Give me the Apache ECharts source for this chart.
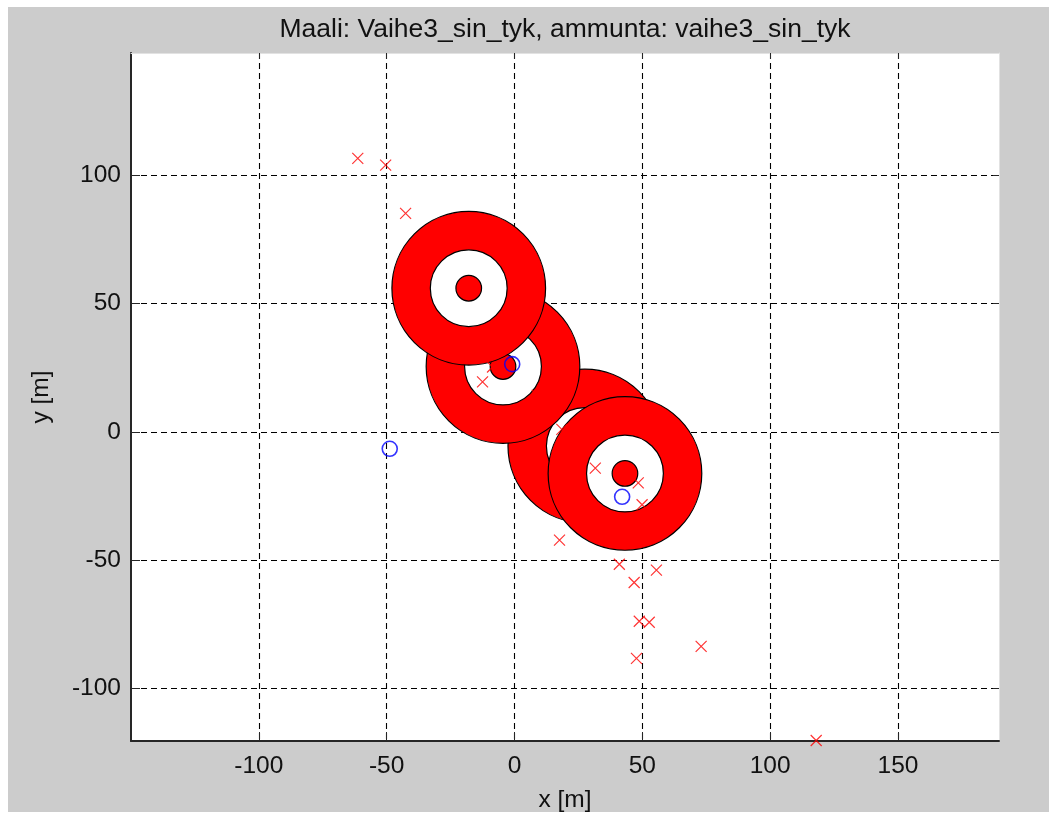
<!DOCTYPE html>
<html><head><meta charset="utf-8">
<script src="https://cdn.jsdelivr.net/npm/echarts@6/dist/echarts.min.js"></script>
<style>html,body{margin:0;background:#fff;}#wrap{position:absolute;left:0;top:0;width:1052px;height:814px;background:#fff;}#chart{position:absolute;left:8px;top:7px;width:1041px;height:805px;}</style>
</head><body><div id="wrap"><div id="chart"></div></div>
<script>
const titleText = 'Maali: Vaihe3_sin_tyk, ammunta: vaihe3_sin_tyk';
const xTicks = [-100, -50, 0, 50, 100, 150];
const yTicks = [-100, -50, 0, 50, 100];
// target centres (in drawing order, back to front)
const targetX = [27.5, 43.2, -4.5, -17.9];
const targetY = [-5.5, -16.2, 25.5, 56.0];
const ringRadii = [30, 15, 5];
const ringColors = ['#ff0000', '#ffffff', '#ff0000'];
// red x markers (hits)
const hitX = [-61.3, -50.4, -42.6, -12.5, -8.6, 8.9, 18.5, 31.6, 48.4, 49.9, 17.6, 41.0, 55.5, 46.8, 48.8, 52.7, 47.7, 73.0, 118.0];
const hitY = [106.6, 104.0, 85.2, 19.5, 25.3, 14.3, 1.0, -14.1, -19.9, -28.4, -42.2, -51.6, -53.9, -58.7, -73.8, -74.2, -88.3, -83.6, -120.3];
// blue circle markers
const refX = [-0.9, -48.8, 42.1];
const refY = [26.4, -6.6, -25.3];

const FONT = "'Liberation Sans', Arial, sans-serif";
const chart = echarts.init(document.getElementById('chart'), null, {renderer: 'canvas'});
const targets = targetX.map((x, i) => [x, targetY[i]]);
const hits = hitX.map((x, i) => [x, hitY[i]]);
const refs = refX.map((x, i) => [x, refY[i]]);

chart.setOption({
  animation: false,
  backgroundColor: '#cccccc',
  graphic: [{
    type: 'text', x: 557, y: 23,
    style: {text: titleText, align: 'center', verticalAlign: 'middle', fontSize: 26.5, fontFamily: FONT, fill: '#111'}
  }],
  grid: {left: 123, top: 46, width: 868, height: 688, show: true, backgroundColor: '#ffffff', borderWidth: 0,
         containLabel: false, outerBoundsMode: 'none'},
  xAxis: [{
    type: 'value', min: -150, max: 189.5, position: 'bottom',
    name: 'x [m]', nameLocation: 'middle', nameGap: 47,
    nameTextStyle: {fontSize: 24.5, fontFamily: FONT, color: '#111'},
    axisLine: {show: true, onZero: false, lineStyle: {color: '#262626', width: 2}},
    axisTick: {show: true, inside: true, length: 9, customValues: xTicks, lineStyle: {color: '#262626', width: 1}},
    axisLabel: {show: true, customValues: xTicks, fontSize: 24.5, fontFamily: FONT, color: '#111', margin: 13},
    splitLine: {show: true, lineStyle: {color: '#000', width: 1.1, type: [6, 4]}}
  }, {
    type: 'value', min: -150, max: 189.5, position: 'top',
    axisLine: {show: true, onZero: false, lineStyle: {color: '#e2e2e2', width: 1}},
    axisTick: {show: true, inside: true, length: 6, customValues: xTicks, lineStyle: {color: '#262626'}},
    axisLabel: {show: false}, splitLine: {show: false}
  }],
  yAxis: [{
    type: 'value', min: -120.5, max: 147.7, position: 'left',
    name: 'y [m]', nameLocation: 'middle', nameGap: 77, nameRotate: 90,
    nameTextStyle: {fontSize: 24.5, fontFamily: FONT, color: '#111'},
    axisLine: {show: true, onZero: false, lineStyle: {color: '#262626', width: 2}},
    axisTick: {show: true, inside: true, length: 9, customValues: yTicks, lineStyle: {color: '#262626', width: 1}},
    axisLabel: {show: true, customValues: yTicks, fontSize: 24.5, fontFamily: FONT, color: '#111', margin: 10},
    splitLine: {show: true, lineStyle: {color: '#000', width: 1.1, type: [6, 4]}}
  }, {
    type: 'value', min: -120.5, max: 147.7, position: 'right',
    axisLine: {show: true, onZero: false, lineStyle: {color: '#e2e2e2', width: 1}},
    axisTick: {show: true, inside: true, length: 6, customValues: yTicks, lineStyle: {color: '#262626'}},
    axisLabel: {show: false}, splitLine: {show: false}
  }],
  series: [{
    type: 'custom', xAxisIndex: 0, yAxisIndex: 0, clip: false, z: 2,
    data: targets,
    renderItem: function (params, api) {
      const c = api.coord([api.value(0), api.value(1)]);
      const children = ringRadii.map(function (r, i) {
        const s = api.size([r, r]);
        return {type: 'circle', shape: {cx: c[0], cy: c[1], r: (s[0] + s[1]) / 2},
          style: {fill: ringColors[i], stroke: '#000', lineWidth: 1.2}};
      });
      return {type: 'group', children: children};
    }
  }, {
    type: 'scatter', xAxisIndex: 0, yAxisIndex: 0, z: 5, clip: false,
    data: hits, symbol: 'path://M0,0L10,10M10,0L0,10', symbolSize: 11,
    itemStyle: {color: 'transparent', borderColor: '#ff0000', borderWidth: 1.2}
  }, {
    type: 'scatter', xAxisIndex: 0, yAxisIndex: 0, z: 6, clip: false,
    data: refs, symbol: 'circle', symbolSize: 15,
    itemStyle: {color: 'transparent', borderColor: '#0000ff', borderWidth: 1.6}
  }]
});
</script></body></html>
